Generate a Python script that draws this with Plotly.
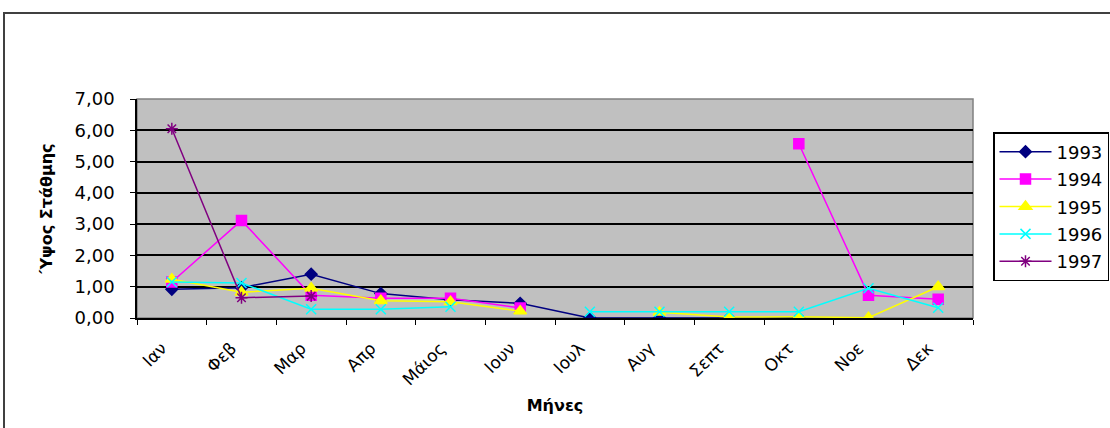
import plotly.graph_objects as go

months = ["Ιαν", "Φεβ", "Μαρ", "Απρ", "Μάιος", "Ιουν", "Ιουλ", "Αυγ", "Σεπτ", "Οκτ", "Νοε", "Δεκ"]
y1993 = [0.92, 0.97, 1.40, 0.78, 0.58, 0.47, 0.00, 0.00, 0.00, 0.00, None, None]
y1994 = [1.15, 3.12, 0.73, 0.63, 0.63, 0.32, None, None, None, 5.57, 0.73, 0.60]
y1995 = [1.24, 0.82, 0.95, 0.55, 0.52, 0.22, None, 0.18, 0.03, 0.04, 0.01, 1.00]
y1996 = [1.15, 1.12, 0.28, 0.28, 0.36, None, 0.20, 0.20, 0.20, 0.20, 0.95, 0.33]
y1997 = [6.05, 0.65, 0.70, None, None, None, None, None, None, None, None, None]
series_names = ["1993", "1994", "1995", "1996", "1997"]

W, H = 1110, 428
L, R, T, B = 137, 973, 99, 318

styles = [
    dict(color="#000080", symbol="diamond", size=9),
    dict(color="#FF00FF", symbol="square", size=10),
    dict(color="#FFFF00", symbol="triangle-up", size=11),
    dict(color="#00FFFF", symbol="x-thin-open", size=10),
    dict(color="#800080", symbol="asterisk-open", size=10),
]

fig = go.Figure()
for name, ys, st in zip(series_names, [y1993, y1994, y1995, y1996, y1997], styles):
    fig.add_trace(go.Scatter(
        x=months, y=ys, name=name, mode="lines+markers",
        legendgroup=name,
        line=dict(color=st["color"], width=1.5),
        marker=dict(symbol=st["symbol"], size=st["size"], color=st["color"],
                    line=dict(color=st["color"], width=1.5)),
        connectgaps=False,
    ))

pw = R - L
ph = B - T
def px(x):
    return (x - L) / pw
def py(y):
    return (B - y) / ph

fig.update_layout(
    width=W, height=H,
    margin=dict(l=L, r=W - R, t=T, b=H - B, autoexpand=False),
    paper_bgcolor="white",
    plot_bgcolor="#C0C0C0",
    separators=",.",
    font=dict(family="DejaVu Sans", color="#000000"),
    showlegend=True,
    legend=dict(
        x=px(993), y=py(132), xanchor="left", yanchor="top",
        bgcolor="white", bordercolor="#000000", borderwidth=1.5,
        font=dict(family="DejaVu Sans", size=18, color="#000000"),
        tracegroupgap=1,
        itemwidth=52,
    ),
    xaxis=dict(
        type="category",
        range=[-0.5, 11.5],
        showgrid=False,
        showline=True, linecolor="#000000", linewidth=1.5,
        ticks="outside", ticklen=5, tickcolor="#000000", tickwidth=1,
        tickson="boundaries",
        tickangle=-45,
        ticklabelstandoff=12,
        ticklabelshift=-10,
        tickfont=dict(family="DejaVu Sans", size=17, color="#000000"),
        title=dict(text="<b>Μήνες</b>", font=dict(family="DejaVu Sans", size=16, color="#000000"), standoff=12),
        zeroline=False,
        automargin=False,
    ),
    yaxis=dict(
        range=[0, 7],
        dtick=1,
        tickformat=".2f",
        showgrid=True, gridcolor="#000000", gridwidth=1.5,
        showline=True, linecolor="#000000", linewidth=1.5,
        ticks="outside", ticklen=5, tickcolor="#000000", tickwidth=1,
        ticklabelstandoff=12,
        tickfont=dict(family="DejaVu Sans", size=18, color="#000000"),
        title=dict(text="<b>Ύψος Στάθμης</b>", font=dict(family="DejaVu Sans", size=16, color="#000000"), standoff=18),
        zeroline=False,
        automargin=False,
    ),
    shapes=[
        dict(type="rect", xref="paper", yref="paper", x0=0, x1=1, y0=0, y1=1,
             line=dict(color="#808080", width=1.5), layer="below"),
        dict(type="rect", xref="paper", yref="paper",
             x0=px(4), x1=px(1114), y0=py(432), y1=py(13),
             line=dict(color="#404040", width=2)),
    ],
)

fig.write_html("out.html", config={"displayModeBar": False},
               post_script="document.body.style.margin='0';document.body.style.overflow='hidden';")
